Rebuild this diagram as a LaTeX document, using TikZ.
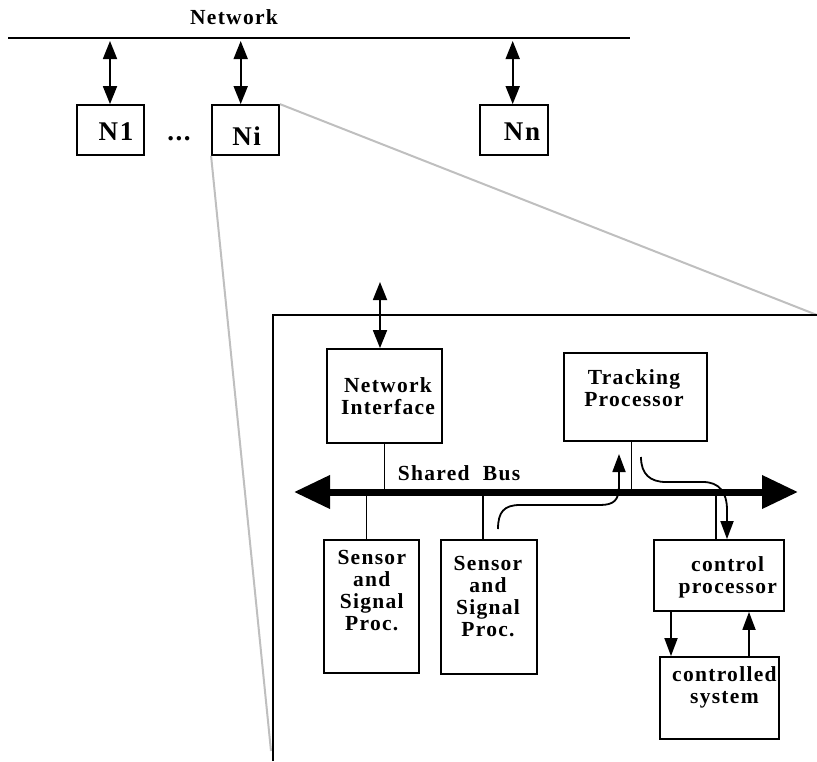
\documentclass[tikz,border=0pt]{standalone}
\usepackage{fontspec}
\setmainfont{Liberation Serif}[LetterSpace=6]
\usetikzlibrary{arrows.meta}

\begin{document}
\begin{tikzpicture}[x=1pt,y=-1pt,
  box/.style={draw, line width=1.8pt, inner sep=0pt},
  lbl/.style={font=\bfseries\fontsize{21.5}{22}\selectfont, align=center, inner sep=0pt},
  big/.style={font=\bfseries\fontsize{27}{28}\selectfont, inner sep=0pt},
  link/.style={line width=1.8pt},
  dtip/.style={{Triangle[length=18pt,width=14pt]}-{Triangle[length=18pt,width=14pt]}},
  tip/.style={-{Triangle[length=18pt,width=13pt]}},
  zoomline/.style={draw=black!25, line width=2pt}]

\useasboundingbox (0,0) rectangle (817,761);

% ---------- network level ----------
\coordinate (netL) at (8,38);
\coordinate (netR) at (630,38);
\draw[line width=2pt] (netL) -- (netR);
\node[lbl] (nettxt) at (234,17) {Network};

\node[box, minimum width=67pt, minimum height=50pt] (n1) at (110.5,130) {};
\node[box, minimum width=67pt, minimum height=50pt] (ni) at (245.5,130) {};
\node[box, minimum width=68pt, minimum height=50pt] (nn) at (514,130) {};
\node[big] (n1t) at (116,132) {N1};
\node[big] (nit) at (246.7,136) {Ni};
\node[big] (nnt) at (522,132) {Nn};
\node[big] (dots) at (179,139) {...};

\coordinate (a1) at (110,41);
\coordinate (ai) at (240.7,41);
\coordinate (an) at (512.7,41);
\draw[link, dtip] (a1) -- (a1 |- n1.north);
\draw[link, dtip] (ai) -- (ai |- ni.north);
\draw[link, dtip] (an) -- (an |- nn.north);

% ---------- magnified node ----------
\coordinate (frBL) at (273,761);
\coordinate (frTL) at (273,315);
\coordinate (frTR) at (817,315);
\coordinate (zoomEnd) at (271,751);
\draw[zoomline] (ni.north east) -- (frTR);
\draw[zoomline] (ni.south west) -- (zoomEnd);
\draw[line width=2pt] (frBL) -- (frTL) -- (frTR);

\node[box, minimum width=115pt, minimum height=94pt] (nif) at (384.5,396) {};
\node[box, minimum width=143pt, minimum height=88pt] (tp) at (635.5,397) {};
\node[box, minimum width=95pt, minimum height=133pt] (s1) at (371.5,606.5) {};
\node[box, minimum width=96pt, minimum height=134pt] (s2) at (489,607) {};
\node[box, minimum width=130pt, minimum height=71pt] (cp) at (719,575.5) {};
\node[box, minimum width=119pt, minimum height=82pt] (cs) at (719.5,698) {};

\node[lbl] (niftxt) at (388,396.4) {Network\\Interface};
\node[lbl] (tptxt) at (634,388) {Tracking\\Processor};
\node[lbl] (s1txt) at (371.8,591) {Sensor\\and\\Signal\\Proc.};
\node[lbl] (s2txt) at (488,597) {Sensor\\and\\Signal\\Proc.};
\node[lbl] (cptxt) at (727.7,577.2) {control\\processor};
\node[lbl] (cstxt) at (724.4,687.2) {controlled\\system};

% link to the network
\coordinate (niTop) at (380,282);
\draw[link, dtip] (niTop) -- (niTop |- nif.north);

% shared bus
\coordinate (busL) at (294,492);
\coordinate (busR) at (798,492);
\draw[line width=7pt, {Triangle[length=36pt,width=32pt]}-{Triangle[length=36pt,width=32pt]}] (busL) -- (busR);
\node[lbl] (bustxt) at (459,473) {Shared~ Bus};

\draw[link] (nif.south) -- (nif.south |- busL);
\draw[link] ([xshift=-4pt]tp.south) -- ([xshift=-4pt]tp.south |- busL);
\draw[link] ([xshift=-5pt]s1.north) -- ([xshift=-5pt]s1.north |- busL);
\draw[link] ([xshift=-6pt]s2.north) -- ([xshift=-6pt]s2.north |- busL);
\draw[link] ([xshift=-3pt]cp.north) -- ([xshift=-3pt]cp.north |- busL);

% data flows over the bus
\coordinate (upS) at (498,529);
\coordinate (upE) at (619,454);
\draw[link, tip] (upS) .. controls (498,512) and (504,505) .. (520,505)
  -- (600,505) .. controls (614,505) and (619,500) .. (619,486) -- (upE);
\coordinate (dnS) at (641,457);
\draw[link, tip] (dnS) .. controls (641,474) and (650,482) .. (666,482)
  -- (703,482) .. controls (719,482) and (727,492) .. (727,510)
  -- ([xshift=8pt]cp.north);

% control loop
\draw[link, tip] ([xshift=-48pt]cp.south) -- ([xshift=-48pt]cp.south |- cs.north);
\draw[link, tip] ([xshift=30pt]cp.south |- cs.north) -- ([xshift=30pt]cp.south);

\end{tikzpicture}
\end{document}
